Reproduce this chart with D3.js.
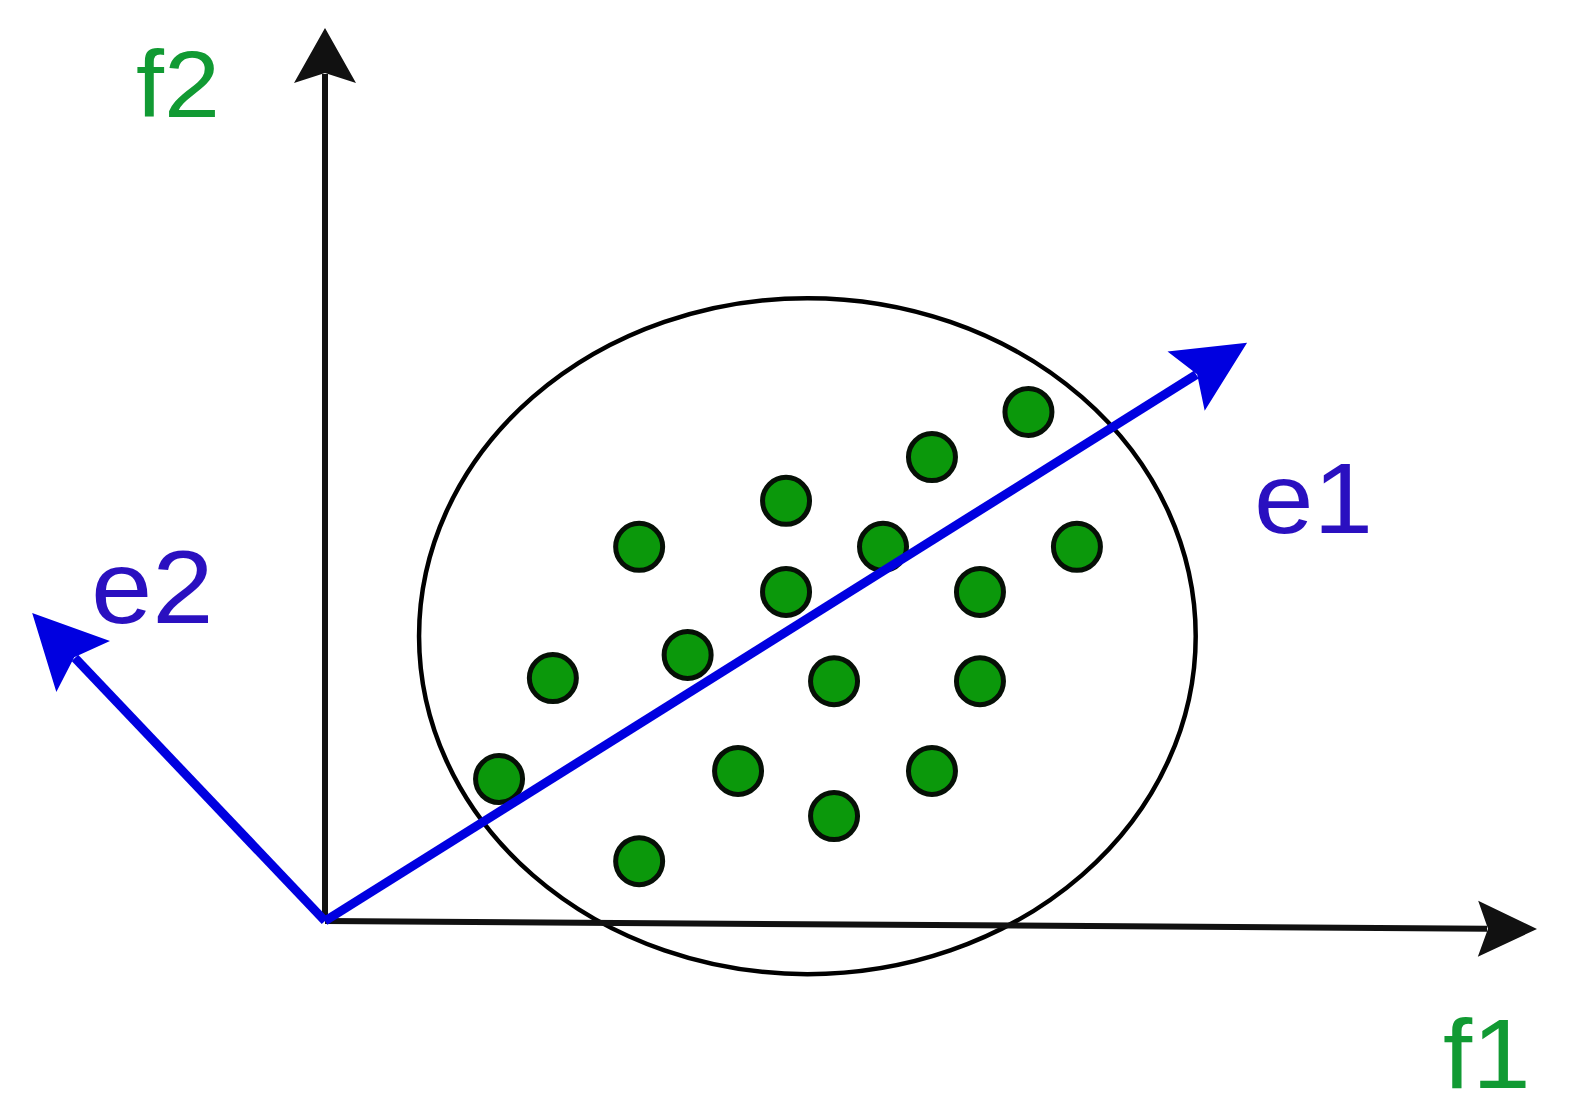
<!DOCTYPE html>
<html>
<head>
<meta charset="utf-8">
<script src="https://cdn.jsdelivr.net/npm/d3@7"></script>
<style>
  html, body { margin: 0; padding: 0; background: #fff; }
  svg { display: block; }
  text { font-family: "Liberation Sans", Arial, sans-serif; }
</style>
</head>
<body>
<svg id="chart" width="1574" height="1118"></svg>
<script>
// ---- data (feature units) ----
const pointsF1 = [14.51, 12.52, 9.51, 6.48, 11.51, 15.51, 9.51, 13.51, 7.48, 4.70, 10.50, 13.51, 3.59, 8.52, 12.52, 10.50, 6.48];
const pointsF2 = [11.40, 10.39, 9.41, 8.38, 8.38, 8.38, 7.37, 7.37, 5.96, 5.44, 5.37, 5.37, 3.18, 3.36, 3.36, 2.35, 1.34];
const ellipseCenter = [9.95, 6.38];
const ellipseRadii = [8.01, 7.57];
const axisF1End = [25, -0.18];
const axisF2End = [0, 20];
const e1End = [19.02, 12.95];
const e2End = [-6.04, 6.90];
const labels = ["f1", "f2", "e1", "e2"];

// ---- scales ----
const x = d3.scaleLinear().domain([0, 25]).range([325, 1537]);
const y = d3.scaleLinear().domain([0, 20]).range([921, 28]);

const svg = d3.select("#chart");
svg.append("rect").attr("width", 1574).attr("height", 1118).attr("fill", "#fff");

function arrow(p0, p1, L, W, N, color, width) {
  const x0 = x(p0[0]), y0 = y(p0[1]), x1 = x(p1[0]), y1 = y(p1[1]);
  const dx = x1 - x0, dy = y1 - y0, len = Math.hypot(dx, dy);
  const ux = dx / len, uy = dy / len;
  const g = svg.append("g");
  const back = L - N;
  g.append("line")
    .attr("x1", x0).attr("y1", y0)
    .attr("x2", x1 - ux * (back + 1)).attr("y2", y1 - uy * (back + 1))
    .attr("stroke", color).attr("stroke-width", width).attr("stroke-linecap", "butt");
  const ang = Math.atan2(dy, dx) * 180 / Math.PI;
  const head = d3.line()([[0, 0], [-L, -W], [-back, 0], [-L, W]]) + "Z";
  g.append("path").attr("d", head)
    .attr("transform", `translate(${x1},${y1}) rotate(${ang})`)
    .attr("fill", color);
  return g;
}

// ellipse
svg.append("ellipse")
  .attr("cx", x(ellipseCenter[0])).attr("cy", y(ellipseCenter[1]))
  .attr("rx", x(ellipseCenter[0] + ellipseRadii[0]) - x(ellipseCenter[0]))
  .attr("ry", y(ellipseCenter[1]) - y(ellipseCenter[1] + ellipseRadii[1]))
  .attr("fill", "none").attr("stroke", "#000").attr("stroke-width", 4.5);

// axes
arrow([0, 0], axisF2End, 55, 31, 10, "#111", 6);
arrow([0, 0], axisF1End, 59, 28, 10, "#111", 6);

// points
svg.append("g").selectAll("circle")
  .data(pointsF1.map((v, i) => [v, pointsF2[i]]))
  .join("circle")
  .attr("cx", d => x(d[0])).attr("cy", d => y(d[1]))
  .attr("r", 23.5)
  .attr("fill", "#0b980b").attr("stroke", "#061006").attr("stroke-width", 5);

// eigenvectors
arrow([0, 0], e1End, 72, 35, 13, "#0000e0", 9);
arrow([0, 0], e2End, 74, 37, 13, "#0000e0", 9);

// labels
function label(txt, px, py, size, color) {
  svg.append("text").text(txt)
    .attr("transform", `translate(${px},${py}) scale(1.06,1)`)
    .attr("font-size", size).attr("fill", color);
}
label(labels[1], 136, 117, 95, "#119a33");
label(labels[0], 1443, 1088, 99, "#119a33");
label(labels[2], 1254, 533, 101, "#2a10c0");
label(labels[3], 91, 623, 104, "#2a10c0");
</script>
</body>
</html>
